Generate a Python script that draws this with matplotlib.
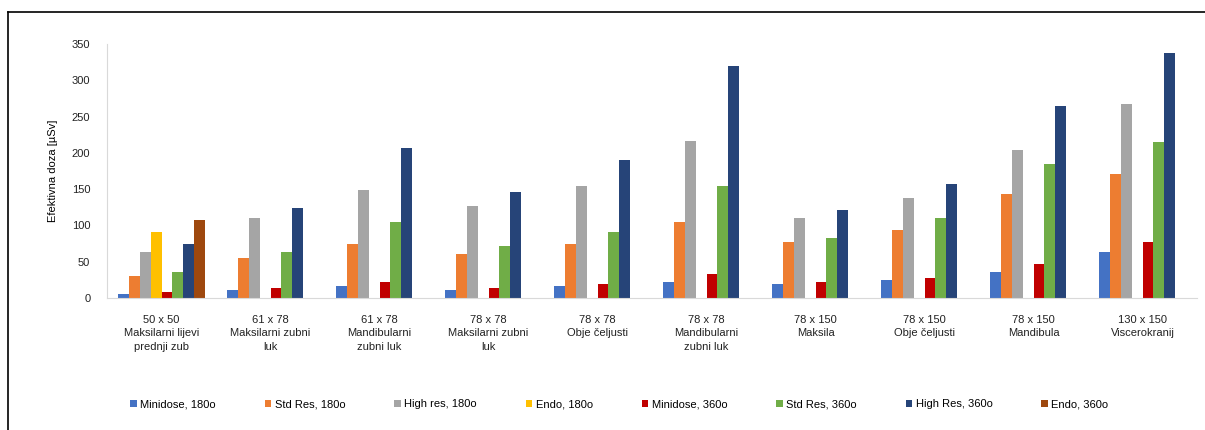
import numpy as np
import matplotlib
matplotlib.use('Agg')
import matplotlib.pyplot as plt
from matplotlib.lines import Line2D

plt.rcParams['font.family'] = ['Liberation Sans', 'DejaVu Sans']

categories = ['50 x 50\nMaksilarni lijevi\nprednji zub',
              '61 x 78\nMaksilarni zubni\nluk',
              '61 x 78\nMandibularni\nzubni luk',
              '78 x 78\nMaksilarni zubni\nluk',
              '78 x 78\nObje čeljusti',
              '78 x 78\nMandibularni\nzubni luk',
              '78 x 150\nMaksila',
              '78 x 150\nObje čeljusti',
              '78 x 150\nMandibula',
              '130 x 150\nViscerokranij']

nan = np.nan
minidose_180 = [6, 11, 17, 11, 17, 22, 19, 25, 36, 63]
std_res_180 = [30, 55, 74, 61, 74, 105, 77, 94, 143, 171]
high_res_180 = [63, 110, 149, 127, 154, 217, 110, 138, 204, 267]
endo_180 = [91, nan, nan, nan, nan, nan, nan, nan, nan, nan]
minidose_360 = [8, 14, 22, 14, 19, 33, 22, 28, 47, 77]
std_res_360 = [36, 63, 105, 72, 91, 154, 83, 110, 185, 215]
high_res_360 = [74, 124, 207, 146, 190, 320, 121, 157, 265, 337]
endo_360 = [107, nan, nan, nan, nan, nan, nan, nan, nan, nan]

series = [minidose_180, std_res_180, high_res_180, endo_180,
          minidose_360, std_res_360, high_res_360, endo_360]
labels = ['Minidose, 180o', 'Std Res, 180o', 'High res, 180o', 'Endo, 180o',
          'Minidose, 360o', 'Std Res, 360o', 'High Res, 360o', 'Endo, 360o']
colors = ['#4472C4', '#ED7D31', '#A5A5A5', '#FFC000',
          '#C00000', '#70AD47', '#264478', '#9E480E']

fig = plt.figure(figsize=(12.05, 4.3), dpi=100)
ax = fig.add_axes([0.0888, 0.307, 0.9046, 0.5907])

x = np.arange(len(categories))
w = 0.1
for i, (vals, lab, col) in enumerate(zip(series, labels, colors)):
    ax.bar(x + (i - 3.5) * w, vals, width=w, color=col, label=lab)

ax.set_xlim(-0.5, len(categories) - 0.5)
ax.set_ylim(0, 350)
ax.set_yticks(np.arange(0, 351, 50))
ax.set_xticks(x)
ax.set_xticklabels(categories, fontsize=8, linespacing=1.45, color='#222222')
ax.tick_params(axis='both', length=0, labelsize=8, colors='#222222')
ax.tick_params(axis='x', pad=12)
ax.tick_params(axis='y', pad=12)
for s in ['top', 'right']:
    ax.spines[s].set_visible(False)
for s in ['left', 'bottom']:
    ax.spines[s].set_color('#D9D9D9')
ax.set_ylabel('Efektivna doza [µSv]', fontsize=8, labelpad=10)

fig.legend(loc='center', bbox_to_anchor=(0.514, 0.06), ncol=8, frameon=False,
           fontsize=8, handlelength=0.6, handleheight=0.6, handletextpad=0.3,
           columnspacing=4.4)

# frame lines like the original figure border
fig.add_artist(Line2D([0.0066, 0.0066], [0.0, 0.972], color='black', lw=1.2,
                      transform=fig.transFigure))
fig.add_artist(Line2D([0.0066, 1.0], [0.972, 0.972], color='black', lw=1.2,
                      transform=fig.transFigure))

fig.savefig('out.png', dpi=100)
